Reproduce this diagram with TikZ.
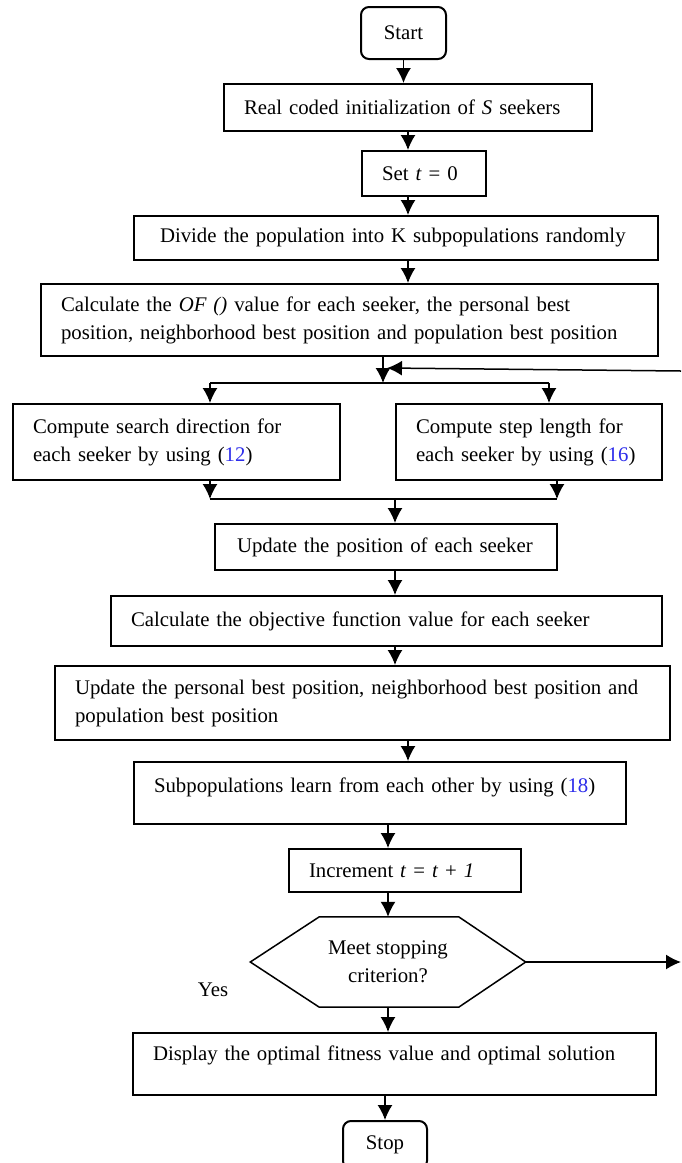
\documentclass[tikz,border=0pt]{standalone}
\usepackage{fontspec}
\setmainfont{Liberation Serif}
\usepackage{tikz}
\usetikzlibrary{arrows.meta, positioning, calc}
\definecolor{refblue}{RGB}{45,45,235}

\begin{document}
\begin{tikzpicture}[
    x=1pt, y=-1pt,
    every node/.style={font=\fontsize{20.8}{28}\selectfont, inner ysep=0pt},
    box/.style={draw, line width=2pt, rectangle, anchor=north west, inner xsep=20pt, align=left},
    term/.style={draw, line width=2pt, rectangle, rounded corners=8pt, align=center},
    arrow/.style={-{Latex[length=15pt, width=15pt]}, line width=1.5pt},
    line/.style={line width=1.5pt}
]
\useasboundingbox (0,0) rectangle (681,1163);
\node[term, minimum width=85pt, minimum height=52pt] (start) at (403.5,33) {Start};
\node[box, text width=328pt, minimum height=47pt] (init) at (223,83) {Real coded initialization of \textit{S} seekers};
\node[box, text width=84pt, minimum height=45pt] (sett) at (361,150) {Set \textit{t} = 0};
\node[box, inner xsep=26pt, text width=472pt, minimum height=44pt] (divide) at (133,215) {Divide the population into K subpopulations randomly};
\node[box, text width=577pt, minimum height=72pt] (calcof) at (40,283) {Calculate the \textit{OF ()} value for each seeker, the personal best\\position, neighborhood best position and population best position};
\node[box, text width=287pt, minimum height=76pt] (dir) at (12,403) {Compute search direction for\\each seeker by using (\textcolor{refblue}{12})};
\node[box, text width=226pt, minimum height=76pt] (step) at (395,403) {Compute step length for\\each seeker by using (\textcolor{refblue}{16})};
\node[box, inner xsep=22pt, text width=298pt, minimum height=46pt] (update) at (214,523) {Update the position of each seeker};
\node[box, text width=511pt, minimum height=50pt] (objfun) at (110,595) {Calculate the objective function value for each seeker};
\node[box, text width=575pt, minimum height=74pt] (pbest) at (54,665) {Update the personal best position, neighborhood best position and\\population best position};
\node[box, text width=452pt, minimum height=62pt, text depth=15pt] (learn) at (133,761) {Subpopulations learn from each other by using (\textcolor{refblue}{18})};
\node[box, text width=192pt, minimum height=43pt] (incr) at (288,848) {Increment \textit{t} = \textit{t} + \textit{1}};
\node[minimum width=275pt, minimum height=90pt, align=center] (stopq) at (388,962) {Meet stopping\\criterion?};
\node (yes) at (213,990) {Yes};
\node[box, text width=483pt, minimum height=62pt, text depth=21pt] (display) at (132,1032) {Display the optimal fitness value and optimal solution};
\node[term, minimum width=84pt, minimum height=48pt] (stop) at (385,1145) {Stop};
\coordinate (split) at (383,383);
\coordinate (splitL) at (210,383);
\coordinate (splitR) at (549,383);
\coordinate (loopin) at (681,371);
\coordinate (loopend) at (387,368);
\coordinate (mergeL) at (210,499);
\coordinate (mergeR) at (557,499);
\coordinate (merge) at (395,499);
\coordinate (loopout) at (681,962);
\draw[line width=1.5pt] (stopq.west) -- ($(stopq.north west)+(69,0)$) -- ($(stopq.north east)+(-67,0)$) -- (stopq.east) -- ($(stopq.south east)+(-67,0)$) -- ($(stopq.south west)+(69,0)$) -- cycle;
\draw[arrow] (start) -- (start |- init.north);
\draw[arrow] (init) -- (init |- sett.north);
\draw[arrow] (init |- sett.south) -- (init |- divide.north);
\draw[arrow] (init |- divide.south) -- (init |- calcof.north);
\draw[arrow] (calcof.south -| split) -- (split);
\draw[line] (splitL) -- (splitR);
\draw[arrow] (splitL) -- (splitL |- dir.north);
\draw[arrow] (splitR) -- (splitR |- step.north);
\draw[arrow] (loopin) -- (loopend);
\draw[arrow] (dir.south -| mergeL) -- (mergeL);
\draw[arrow] (step.south -| mergeR) -- (mergeR);
\draw[line] (mergeL) -- (mergeR);
\draw[arrow] (merge) -- (merge |- update.north);
\draw[arrow] (merge |- update.south) -- (merge |- objfun.north);
\draw[arrow] (merge |- objfun.south) -- (merge |- pbest.north);
\draw[arrow] (init |- pbest.south) -- (init |- learn.north);
\draw[arrow] (stopq |- learn.south) -- (stopq |- incr.north);
\draw[arrow] (stopq |- incr.south) -- (stopq.north);
\draw[arrow] (stopq.south) -- (stopq |- display.north);
\draw[arrow] (stop |- display.south) -- (stop);
\draw[arrow] (stopq.east) -- (loopout);
\end{tikzpicture}
\end{document}
